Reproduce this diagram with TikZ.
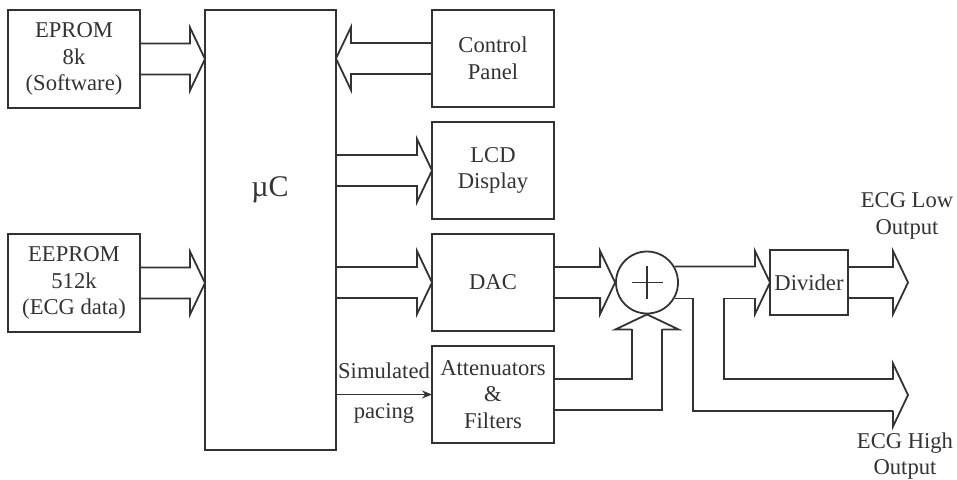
\documentclass[tikz,border=0pt]{standalone}
\usepackage{fontspec}
\setmainfont{Liberation Serif}
\usetikzlibrary{positioning, calc, arrows.meta}

\begin{document}
\begin{tikzpicture}[x=0.5pt, y=-0.5pt, line width=0.9pt, color=black!80,
    font=\fontsize{11.3}{13.3}\selectfont, node distance=7.5pt,
    block/.style={draw, align=center, inner sep=1pt, outer sep=0pt, minimum width=66pt, minimum height=49pt},
    rblock/.style={block, minimum width=61pt, minimum height=48.5pt},
    outtext/.style={align=center, inner sep=0pt},
    bus/.style={to path={
      ($(\tikztostart)!7.75pt!90:(\tikztotarget)$)
      -- ($(\tikztotarget)!7.5pt!(\tikztostart)!7.75pt!-90:(\tikztostart)$)
      -- ($(\tikztotarget)!7.5pt!(\tikztostart)!15.75pt!-90:(\tikztostart)$)
      -- (\tikztotarget)
      -- ($(\tikztotarget)!7.5pt!(\tikztostart)!15.75pt!90:(\tikztostart)$)
      -- ($(\tikztotarget)!7.5pt!(\tikztostart)!7.75pt!90:(\tikztostart)$)
      -- ($(\tikztostart)!7.75pt!-90:(\tikztotarget)$)}},
    bushead/.style={to path={
      ($(\tikztotarget)!7.5pt!(\tikztostart)!7.75pt!-90:(\tikztostart)$)
      -- ($(\tikztotarget)!7.5pt!(\tikztostart)!15.75pt!-90:(\tikztostart)$)
      -- (\tikztotarget)
      -- ($(\tikztotarget)!7.5pt!(\tikztostart)!15.75pt!90:(\tikztostart)$)
      -- ($(\tikztotarget)!7.5pt!(\tikztostart)!7.75pt!90:(\tikztostart)$)}}]
   \useasboundingbox (0,0) rectangle (957,479);

   % memories and controller
   \node[block] (eprom) at (74,59) {EPROM\\8k\\(Software)};
   \node[block] (eeprom) at (74,283) {EEPROM\\512k\\(ECG data)};
   \node[draw, outer sep=0pt, minimum width=65.5pt, minimum height=220pt] (mc) at (270.5,230) {};
   \node[font=\fontsize{15}{18}\selectfont] (mctxt) at (270,190) {µC};

   % right column
   \node[rblock] (ctrl) at (493,58.5) {Control\\Panel};
   \node[rblock, below=of ctrl] (lcd) {LCD\\Display};
   \node[rblock, below=of lcd] (dac) {DAC};
   \node[rblock, below=of dac] (atten) {Attenuators\\\&\\Filters};

   % summer, divider, outputs
   \node[draw, circle, minimum size=31pt, inner sep=0pt] (sum) at (647,282.5) {};
   \node[draw, outer sep=0pt, minimum width=39pt, minimum height=32.5pt, inner sep=1pt] (div) at (809,282.5) {Divider};
   \coordinate (lo) at (908,282.5);
   \coordinate (hi) at (908,395);
   \node[outtext] (lotxt) at (907,216) {ECG Low\\Output};
   \node[outtext] (hitxt) at (905,456) {ECG High\\Output};

   \draw ($(sum)+(-15.5,0)$) -- ($(sum)+(15.5,0)$);
   \draw ($(sum)+(0,-16.5)$) -- ($(sum)+(0,16.5)$);

   \draw (eprom.east) to[bus] (mc.west |- eprom.east);
   \draw (eeprom.east) to[bus] (mc.west |- eeprom.east);
   \draw (ctrl.west) to[bus] (mc.east |- ctrl.west);
   \draw (mc.east |- lcd.west) to[bus] (lcd.west);
   \draw (mc.east |- dac.west) to[bus] (dac.west);
   \draw (dac.east) to[bus] (sum.west);
   \draw[-{Stealth[length=5pt,width=4pt]}, line width=0.7pt] (mc.east |- atten.west)
      -- node[above=4pt]{Simulated} node[below=1pt]{pacing} (atten.west);

   % attenuators into the summer
   \draw ($(atten.east)+(0,-15.5)$) -| ($(sum.south)+(-15,15)$);
   \draw ($(atten.east)+(0,15.5)$) -| ($(sum.south)+(15,15)$);
   \draw (sum.south |- atten.east) to[bushead] (sum.south);

   % summer to divider and high output
   \draw (sum.30) -- ($(div.west)+(-15,-16)$);
   \draw (sum.east |- div.west) to[bushead] (div.west);
   \draw ($(div.west)+(-15,16)$) -| ($(hi)+(-184,-16)$) -- ($(hi)+(-15,-16)$);
   \draw (sum.-30) -| ($(hi)+(-215,16)$) -- ($(hi)+(-15,16)$);
   \draw (div.east |- hi) to[bushead] (hi);
   \draw (div.east) to[bus] (lo);
\end{tikzpicture}
\end{document}
